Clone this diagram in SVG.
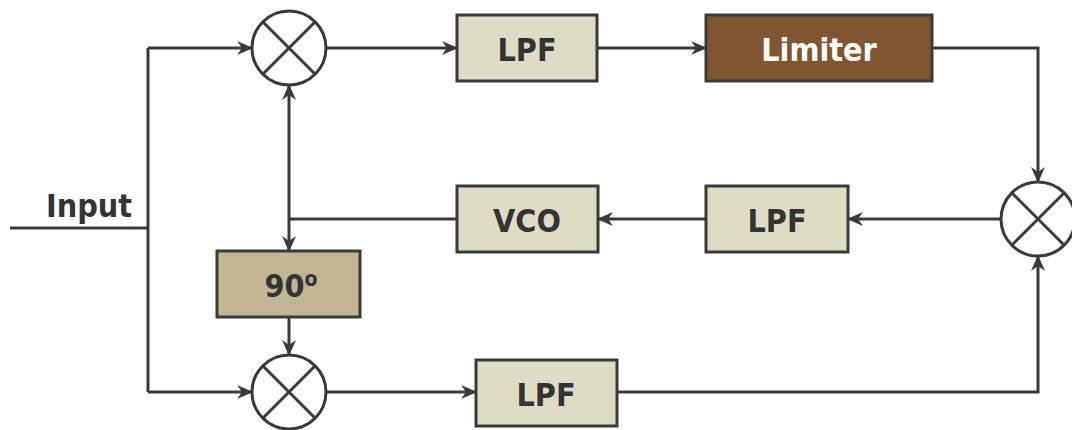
<svg xmlns="http://www.w3.org/2000/svg" width="1072" height="430" viewBox="0 0 1072 430">
  <style>
    .box { stroke: #3b3a38; stroke-width: 3; }
    .filter { fill: #dedcc5; }
    .limiter { fill: #7f5630; }
    .shift { fill: #c2b593; }
    .mixer { fill: #ffffff; stroke: #3b3a38; stroke-width: 3; }
    .wire { fill: none; stroke: #3b3a38; stroke-width: 3; }
    .arrow { fill: none; stroke: #3b3a38; stroke-width: 3; marker-end: url(#head); }
    .label { font-family: "DejaVu Sans Condensed", "DejaVu Sans", sans-serif; font-stretch: condensed; font-weight: 700; font-size: 32px; fill: #333333; text-anchor: middle; }
    .light { fill: #ffffff; }
  </style>
  <defs>
    <marker id="head" viewBox="0 0 16 14" refX="15" refY="7" markerWidth="16" markerHeight="14" markerUnits="userSpaceOnUse" orient="auto">
      <path d="M0,0 L16,7 L0,14 L5,7 z" fill="#3b3a38"/>
    </marker>
    <g id="cross">
      <circle r="37" class="mixer"/>
      <path d="M-26,-26 L26,26 M26,-26 L-26,26" class="wire"/>
    </g>
  </defs>

  <!-- connectors -->
  <g id="connectors">
    <path class="wire" d="M10,228 H148 M148,48 V392"/>
    <path class="arrow" d="M148,48 H252"/>
    <path class="arrow" d="M148,392 H252"/>
    <path class="arrow" d="M326,48 H457"/>
    <path class="arrow" d="M597,48 H706"/>
    <path class="arrow" d="M932,48 H1038 V182"/>
    <path class="arrow" d="M1001,219 H848"/>
    <path class="arrow" d="M706,219 H598"/>
    <path class="wire" d="M457,219 H289"/>
    <path class="arrow" d="M289,219 V85"/>
    <path class="arrow" d="M289,219 V251"/>
    <path class="arrow" d="M289,317 V355"/>
    <path class="arrow" d="M327,392 H476"/>
    <path class="arrow" d="M617,392 H1038 V256"/>
  </g>

  <!-- input label -->
  <g id="input">
    <text class="label" x="89" y="217">Input</text>
  </g>

  <!-- mixers -->
  <g id="mixer-i"><use href="#cross" x="289" y="48"/></g>
  <g id="mixer-q"><use href="#cross" x="289" y="392"/></g>
  <g id="mixer-out"><use href="#cross" x="1038" y="219"/></g>

  <!-- blocks -->
  <g id="lpf-i">
    <rect class="box filter" x="457" y="15" width="140" height="66"/>
    <text class="label" x="527" y="61">LPF</text>
  </g>
  <g id="limiter">
    <rect class="box limiter" x="706" y="15" width="226" height="66"/>
    <text class="label light" x="819" y="61">Limiter</text>
  </g>
  <g id="vco">
    <rect class="box filter" x="457" y="186" width="141" height="66"/>
    <text class="label" x="527" y="232">VCO</text>
  </g>
  <g id="lpf-loop">
    <rect class="box filter" x="706" y="186" width="142" height="66"/>
    <text class="label" x="777" y="232">LPF</text>
  </g>
  <g id="phase-shift">
    <rect class="box shift" x="217" y="251" width="143" height="66"/>
    <text class="label" x="291" y="297">90<tspan font-size="21" dy="-11">o</tspan></text>
  </g>
  <g id="lpf-q">
    <rect class="box filter" x="476" y="360" width="141" height="66"/>
    <text class="label" x="546" y="406">LPF</text>
  </g>
</svg>
